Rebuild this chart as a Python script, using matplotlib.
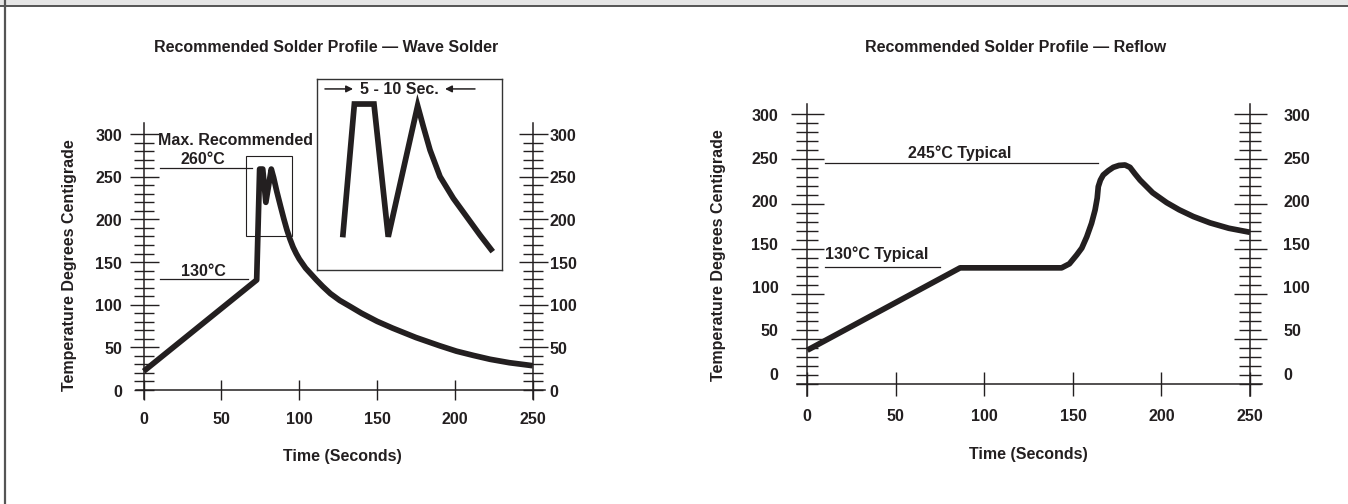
import matplotlib
matplotlib.use('Agg')
import matplotlib.pyplot as plt
from matplotlib.patches import Rectangle
from matplotlib.lines import Line2D

plt.rcParams['font.family'] = ['Liberation Sans', 'DejaVu Sans']
plt.rcParams['font.weight'] = 'bold'

W, H, DPI = 1348, 504, 100
INK = '#231f20'
FS = 11.5
LW = 4.1

# ---------------- data ----------------
titles = ['Recommended Solder Profile \u2014 Wave Solder',
          'Recommended Solder Profile \u2014 Reflow']
x_label = 'Time (Seconds)'
y_label = 'Temperature Degrees Centigrade'
x_ticks = [0, 50, 100, 150, 200, 250]
y_ticks = [0, 50, 100, 150, 200, 250, 300]

wave_time = [0, 72.6, 74.5, 76.5, 78.5, 82, 83.5, 85.5, 88, 90, 92, 94, 96, 98,
             100, 104, 108, 111, 115, 120, 126, 132.6, 140, 150, 160, 175, 190,
             201, 212, 222.6, 235, 250]
wave_temp = [22, 129, 259, 259, 220, 259, 249, 233, 215, 201, 188, 177, 167.5,
             160, 153.5, 143, 135, 129, 121.5, 113, 105, 98, 90, 80.5, 72.5, 61.5,
             52, 45.5, 40.5, 36, 32, 28.5]

# magnified sketch of the wave peaks (inset units 0..100)
inset_x = [13.9, 20.2, 30.8, 38.5, 54.4, 57.5, 61.1, 66.5, 73.7, 80.9, 88.1, 95.0]
inset_y = [17.1, 86.9, 86.9, 17.4, 86.0, 75.0, 62.8, 48.9, 37.5, 27.9, 18.3, 9.6]

reflow_time = [0, 86.3, 143.6, 148, 152.1, 155, 157.8, 160.5, 162.5, 163.7, 164.3,
               165.5, 167.1, 170, 172.8, 176, 179.4, 182.2, 185, 187.9, 195, 202.9,
               210, 218, 227.4, 238, 250]
reflow_temp = [37, 128.5, 128.5, 133, 142.8, 150.5, 163, 178, 192.8, 206, 218.7,
               226, 231.7, 236.5, 240.2, 242.3, 242.8, 240.2, 233, 226, 212, 201,
               193, 185.5, 178.5, 172.5, 168]

wave_max, wave_pre = 260, 130
reflow_peak, reflow_soak = 245, 130


def px_axes(fig, x0, sx, y0, sy, xlim, ylim):
    left = x0 + sx * xlim[0]
    right = x0 + sx * xlim[1]
    top = y0 - sy * ylim[1]
    bottom = y0 - sy * ylim[0]
    ax = fig.add_axes([left / W, 1 - bottom / H, (right - left) / W, (bottom - top) / H])
    ax.set_xlim(*xlim)
    ax.set_ylim(*ylim)
    ax.patch.set_alpha(0)
    return ax


def style_axes(ax, ybounds, xbounds, ymaj, ymin, xlen, xpad):
    ax.spines['top'].set_visible(False)
    ax.spines['left'].set_position(('data', 0))
    ax.spines['right'].set_position(('data', 250))
    ax.spines['bottom'].set_position(('data', 0))
    for s in ['left', 'right', 'bottom']:
        ax.spines[s].set_color(INK)
        ax.spines[s].set_linewidth(1.1)
    ax.spines['left'].set_bounds(*ybounds)
    ax.spines['right'].set_bounds(*ybounds)
    ax.spines['bottom'].set_bounds(*xbounds)
    ax.set_yticks(y_ticks[1:])
    ax.set_yticks(list(range(0, 301, 10)), minor=True)
    ax.tick_params(axis='y', which='major', direction='inout', length=ymaj * 0.72,
                   width=1.0, color=INK, left=True, right=True,
                   labelleft=False, labelright=False)
    ax.tick_params(axis='y', which='minor', direction='inout', length=ymin * 0.72,
                   width=1.0, color=INK, left=True, right=True)
    ax.set_xticks(x_ticks)
    ax.set_xticklabels([str(v) for v in x_ticks])
    ax.tick_params(axis='x', which='major', direction='inout', length=xlen * 0.72,
                   width=1.0, color=INK, pad=xpad, labelsize=FS, labelcolor=INK)
    for lab in ax.get_xticklabels():
        lab.set_fontweight('bold')


fig = plt.figure(figsize=(W / DPI, H / DPI), dpi=DPI)
fig.patch.set_facecolor('white')

# header bar and left border
fig.add_artist(Rectangle((0, 1 - 5.5 / H), 1, 5.5 / H, transform=fig.transFigure,
                         facecolor='#e6e6e6', edgecolor='none'))
fig.add_artist(Line2D([0, 1], [1 - 6.3 / H, 1 - 6.3 / H], transform=fig.transFigure,
                      color='#555555', lw=1.4))
fig.add_artist(Line2D([5 / W, 5 / W], [0, 1], transform=fig.transFigure,
                      color='#555555', lw=1.6))

# ---------------- left: wave solder ----------------
axL = px_axes(fig, 143.7, 1.556, 390, 0.853, (-20, 275), (-40, 330))
style_axes(axL, (-10, 313), (-5, 258), 29, 20, 20, 9)
axL.plot(wave_time, wave_temp, color=INK, lw=LW, solid_joinstyle='round',
         solid_capstyle='butt', zorder=5)
axL.plot([10.5, 69.4], [wave_max, wave_max], color=INK, lw=0.9)
axL.plot([10.5, 67.2], [wave_pre, wave_pre], color=INK, lw=0.9)
axL.add_patch(Rectangle((65.6, 180.9), 29.9, 93.4, fill=False, edgecolor=INK, lw=0.8))
axL.text(58.7, 293, 'Max. Recommended', ha='center', va='center', fontsize=FS, color=INK)
axL.text(38.3, 270.5, f'{wave_max}\u00b0C', ha='center', va='center', fontsize=FS, color=INK)
axL.text(38.1, 139.5, f'{wave_pre}\u00b0C', ha='center', va='center', fontsize=FS, color=INK)
for v in y_ticks:
    axL.text(-13.9, v - 2.5, str(v), ha='right', va='center', fontsize=FS, color=INK)
    axL.text(261, v - 2.5, str(v), ha='left', va='center', fontsize=FS, color=INK)

# inset
axI = fig.add_axes([317 / W, 1 - 270 / H, 185 / W, 191 / H])
axI.set_xlim(0, 100)
axI.set_ylim(0, 100)
axI.set_xticks([])
axI.set_yticks([])
for s in axI.spines.values():
    s.set_color('#333333')
    s.set_linewidth(1.0)
axI.plot(inset_x, inset_y, color=INK, lw=LW, solid_joinstyle='miter',
         solid_capstyle='butt')
axI.text(44.3, 94.6, '5 - 10 Sec.', ha='center', va='center', fontsize=FS, color=INK)
axI.annotate('', xy=(19.5, 94.8), xytext=(4.3, 94.8),
             arrowprops=dict(arrowstyle='-|>', color=INK, lw=1.1, mutation_scale=10,
                             shrinkA=0, shrinkB=0))
axI.annotate('', xy=(69.2, 94.8), xytext=(85.4, 94.8),
             arrowprops=dict(arrowstyle='-|>', color=INK, lw=1.1, mutation_scale=10,
                             shrinkA=0, shrinkB=0))

# ---------------- right: reflow ----------------
axR = px_axes(fig, 807.3, 1.771, 383.5, 0.9, (-20, 275), (-40, 330))
style_axes(axR, (-14, 311), (-6, 256.6), 33, 23, 24, 9.5)
axR.plot(reflow_time, reflow_temp, color=INK, lw=LW, solid_joinstyle='round',
         solid_capstyle='butt', zorder=5)
axR.plot([10, 164], [reflow_peak, reflow_peak], color=INK, lw=0.9)
axR.plot([10, 75], [reflow_soak, reflow_soak], color=INK, lw=0.9)
axR.text(86.2, 256.4, f'{reflow_peak}\u00b0C Typical', ha='center', va='center',
         fontsize=FS, color=INK)
axR.text(39.3, 143.6, f'{reflow_soak}\u00b0C Typical', ha='center', va='center',
         fontsize=FS, color=INK)
for v in y_ticks:
    yy = 9.4 + 0.957 * v
    axR.text(-16.4, yy, str(v), ha='right', va='center', fontsize=FS, color=INK)
    axR.text(268.8, yy, str(v), ha='left', va='center', fontsize=FS, color=INK)

# titles and axis labels
fig.text(326 / W, 1 - 48 / H, titles[0], ha='center', va='center', fontsize=FS, color=INK)
fig.text(1016 / W, 1 - 48 / H, titles[1], ha='center', va='center', fontsize=FS, color=INK)
fig.text(342 / W, 1 - 457 / H, x_label, ha='center', va='center', fontsize=FS, color=INK)
fig.text(1028 / W, 1 - 455 / H, x_label, ha='center', va='center', fontsize=FS, color=INK)
fig.text(70 / W, 1 - 265 / H, y_label, ha='center', va='center', rotation=90,
         fontsize=FS, color=INK)
fig.text(718 / W, 1 - 255 / H, y_label, ha='center', va='center', rotation=90,
         fontsize=FS, color=INK)

fig.savefig('out.png', dpi=DPI)
